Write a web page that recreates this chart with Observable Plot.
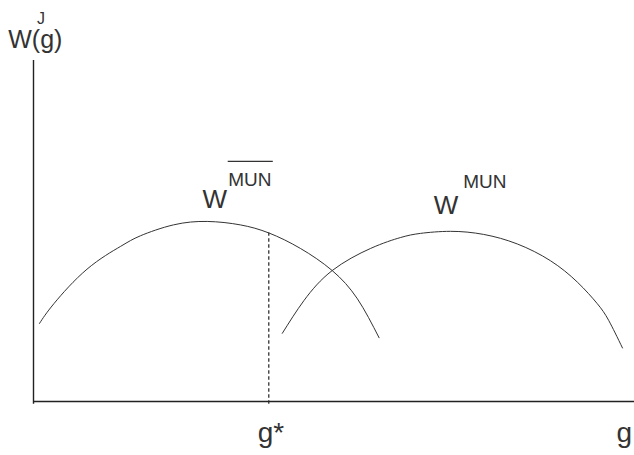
<!DOCTYPE html>
<html>
<head>
<meta charset="utf-8">
<script src="https://cdn.jsdelivr.net/npm/d3@7"></script>
<script src="https://cdn.jsdelivr.net/npm/@observablehq/plot@0.6"></script>
<style>
  html, body { margin: 0; padding: 0; background: #fff; overflow: hidden; }
  svg { display: block; }
</style>
</head>
<body>
<div id="chart"></div>
<script>
// Curve W^{MUN-bar}: sampled points (g, W)
const curveBarG = [1.0, 3.4, 8.9, 14.5, 17.8, 23.3, 28.9, 34.4, 39.2, 44.4, 49.7, 53.9, 57.5];
const curveBarW = [22.9, 28.7, 38.8, 45.5, 48.6, 51.8, 52.8, 51.8, 49.4, 44.9, 38.4, 30.1, 18.7];
// Curve W^{MUN}
const curveMunG = [41.4, 45.0, 49.7, 56.1, 61.1, 64.4, 69.4, 74.9, 80.5, 86.0, 90.5, 93.8, 95.7, 98.0];
const curveMunW = [20.0, 29.6, 38.4, 44.9, 48.1, 49.3, 49.9, 49.0, 46.2, 41.3, 35.0, 28.7, 23.8, 15.7];
// g* and the value of W^{MUN-bar} there
const gStar = 39.15;
const wAtGStar = 49.4;
// Annotation labels
const labelText = ["W", "MUN", "W", "MUN", "W(g)", "J", "g*", "g"];
const labelG    = [28.1, 32.4, 66.6, 71.5, -4.2, 0.6, 37.3, 97.0];
const labelW    = [56.6, 63.3, 55.1, 62.5, 103.8, 110.6, -12.0, -12.0];
const labelSize = [26, 19, 26, 19, 25, 16, 28, 28];
// Overline above the first "MUN" (bar)
const overlineW = 70.4;
const overlineG1 = 32.4;
const overlineG2 = 39.9;

const bar = curveBarG.map((g, i) => ({g, w: curveBarW[i]}));
const mun = curveMunG.map((g, i) => ({g, w: curveMunW[i]}));
const labels = labelText.map((t, i) => ({t, g: labelG[i], w: labelW[i], s: labelSize[i]}));

const plot = Plot.plot({
  width: 634,
  height: 455,
  marginLeft: 33,
  marginRight: 0,
  marginTop: 60,
  marginBottom: 54,
  x: {domain: [0, 100], axis: null},
  y: {domain: [0, 100], axis: null},
  style: {fontFamily: "'Liberation Sans', Arial, sans-serif", background: "#fff"},
  marks: [
    Plot.ruleY([0], {stroke: "#222", strokeWidth: 1.6}),
    Plot.ruleX([0], {y1: -0.8, y2: 100, stroke: "#222", strokeWidth: 1.4}),
    Plot.ruleX([gStar], {y1: -0.8, y2: wAtGStar, stroke: "#222", strokeWidth: 1.2, strokeDasharray: "3.5,2.5"}),
    Plot.line(bar, {x: "g", y: "w", curve: "natural", stroke: "#333", strokeWidth: 1}),
    Plot.line(mun, {x: "g", y: "w", curve: "natural", stroke: "#333", strokeWidth: 1}),
    Plot.ruleY([overlineW], {x1: overlineG1, x2: overlineG2, stroke: "#333", strokeWidth: 1.2}),
    Plot.text(labels, {
      x: "g", y: "w", text: "t", fontSize: "s", fill: "#333",
      textAnchor: "start", lineAnchor: "bottom"
    })
  ]
});
document.getElementById("chart").appendChild(plot);
</script>
</body>
</html>
